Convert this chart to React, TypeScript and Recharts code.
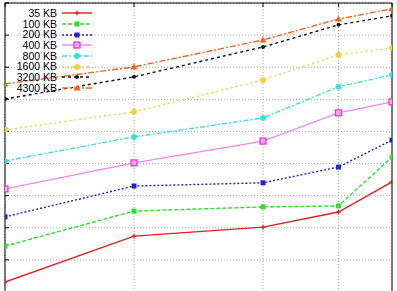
import React from 'react';
import { LineChart, Line, XAxis, YAxis, CartesianGrid, Legend } from 'recharts';

// x positions (log scale)
const xValues = [1, 2, 4, 6, 8];
const yTicks = [0, 1, 2, 3, 4, 5, 6, 7, 8, 9];

const kb35 = [0.31, 1.74, 2.02, 2.49, 3.43];
const kb100 = [1.43, 2.52, 2.65, 2.68, 4.2];
const kb200 = [2.34, 3.3, 3.4, 3.89, 4.73];
const kb400 = [3.21, 4.02, 4.7, 5.58, 5.92];
const kb800 = [4.08, 4.83, 5.42, 6.39, 6.76];
const kb1600 = [5.05, 5.61, 6.6, 7.38, 7.6];
const kb3200 = [6.01, 6.7, 7.63, 8.32, 8.6];
const kb4300 = [6.48, 7.01, 7.85, 8.5, 8.82];

type Shape = 'plus' | 'square' | 'bigsquare' | 'circle' | 'dot' | 'triangle';

const SERIES: { key: string; name: string; values: number[]; color: string; dash?: string; shape: Shape }[] = [
  { key: 'kb35', name: '35 KB', values: kb35, color: '#e02020', shape: 'plus' },
  { key: 'kb100', name: '100 KB', values: kb100, color: '#30dd30', dash: '4 2', shape: 'square' },
  { key: 'kb200', name: '200 KB', values: kb200, color: '#2222cc', dash: '2 2', shape: 'square' },
  { key: 'kb400', name: '400 KB', values: kb400, color: '#ee88ee', shape: 'bigsquare' },
  { key: 'kb800', name: '800 KB', values: kb800, color: '#40dddd', dash: '5 2 2 2', shape: 'circle' },
  { key: 'kb1600', name: '1600 KB', values: kb1600, color: '#f0d040', dash: '2 3', shape: 'circle' },
  { key: 'kb3200', name: '3200 KB', values: kb3200, color: '#111111', dash: '3 3', shape: 'dot' },
  { key: 'kb4300', name: '4300 KB', values: kb4300, color: '#ee6622', dash: '6 2 2 2', shape: 'triangle' },
];

const data = xValues.map((x, i) => {
  const row: Record<string, number> = { x };
  SERIES.forEach(s => { row[s.key] = s.values[i]; });
  return row;
});

const Marker = ({ cx, cy, shape, color }: { cx: number; cy: number; shape: Shape; color: string }) => {
  switch (shape) {
    case 'plus':
      return (
        <g stroke={color} strokeWidth={1.2}>
          <line x1={cx - 2.5} y1={cy} x2={cx + 2.5} y2={cy} />
          <line x1={cx} y1={cy - 2.5} x2={cx} y2={cy + 2.5} />
        </g>
      );
    case 'square':
      return <rect x={cx - 2.5} y={cy - 2.5} width={5} height={5} fill={color} />;
    case 'bigsquare':
      return <rect x={cx - 3} y={cy - 3} width={6} height={6} fill="#f4a8f4" stroke="#e030e0" strokeWidth={1.2} />;
    case 'circle':
      return <circle cx={cx} cy={cy} r={3} fill={color} />;
    case 'dot':
      return <circle cx={cx} cy={cy} r={2} fill={color} />;
    case 'triangle':
      return <path d={`M${cx},${cy - 3.5} L${cx + 3.5},${cy + 2.5} L${cx - 3.5},${cy + 2.5} Z`} fill={color} />;
  }
  return null;
};

const KeyBox = () => (
  <div style={{ fontFamily: '"Liberation Sans", Arial, sans-serif', fontSize: 10.5, color: '#000' }}>
    {SERIES.map(s => (
      <div key={s.key} style={{ display: 'flex', alignItems: 'center', height: 10.7 }}>
        <span style={{ width: 57, textAlign: 'right', lineHeight: '10.7px' }}>{s.name}</span>
        <svg width={36} height={10} style={{ marginLeft: 4 }}>
          <line x1={1} y1={5} x2={31} y2={5} stroke={s.color} strokeWidth={1.4} strokeDasharray={s.dash} />
          <Marker cx={16} cy={5} shape={s.shape} color={s.color} />
        </svg>
      </div>
    ))}
  </div>
);

// axis tick labels are off; tick={false} also drops grid lines in recharts 3
const NoLabel = () => <g />;

export default function App() {
  return (
    <div style={{ position: 'absolute', left: 0, top: 0, background: '#fff' }}>
      <LineChart width={397} height={300} data={data} margin={{ top: 3, right: 5, bottom: 8, left: 5 }}>
        <CartesianGrid stroke="#a8a8a8" strokeWidth={1} strokeDasharray="1 2" />
        <XAxis
          dataKey="x"
          type="number"
          scale="log"
          domain={[1, 8]}
          ticks={xValues}
          orientation="top"
          mirror
          tick={NoLabel}
          tickSize={4}
          stroke="#000"
          allowDataOverflow
        />
        <YAxis domain={[0, 9]} ticks={yTicks} mirror tick={NoLabel} tickSize={4} stroke="#000" />
        <YAxis yAxisId="r" orientation="right" domain={[0, 9]} ticks={yTicks} mirror tick={NoLabel} tickSize={4} stroke="#000" />
        <Legend
          layout="vertical"
          align="center"
          verticalAlign="middle"
          content={() => <KeyBox />}
          wrapperStyle={{ left: 0, top: 8, width: 100 }}
        />
        {SERIES.map(s => (
          <Line
            key={s.key}
            dataKey={s.key}
            name={s.name}
            stroke={s.color}
            strokeWidth={1.4}
            strokeDasharray={s.dash}
            dot={(p: any) => <Marker key={`${s.key}-${p.index}`} cx={p.cx} cy={p.cy} shape={s.shape} color={s.color} />}
            activeDot={false}
            isAnimationActive={false}
          />
        ))}
      </LineChart>
    </div>
  );
}
